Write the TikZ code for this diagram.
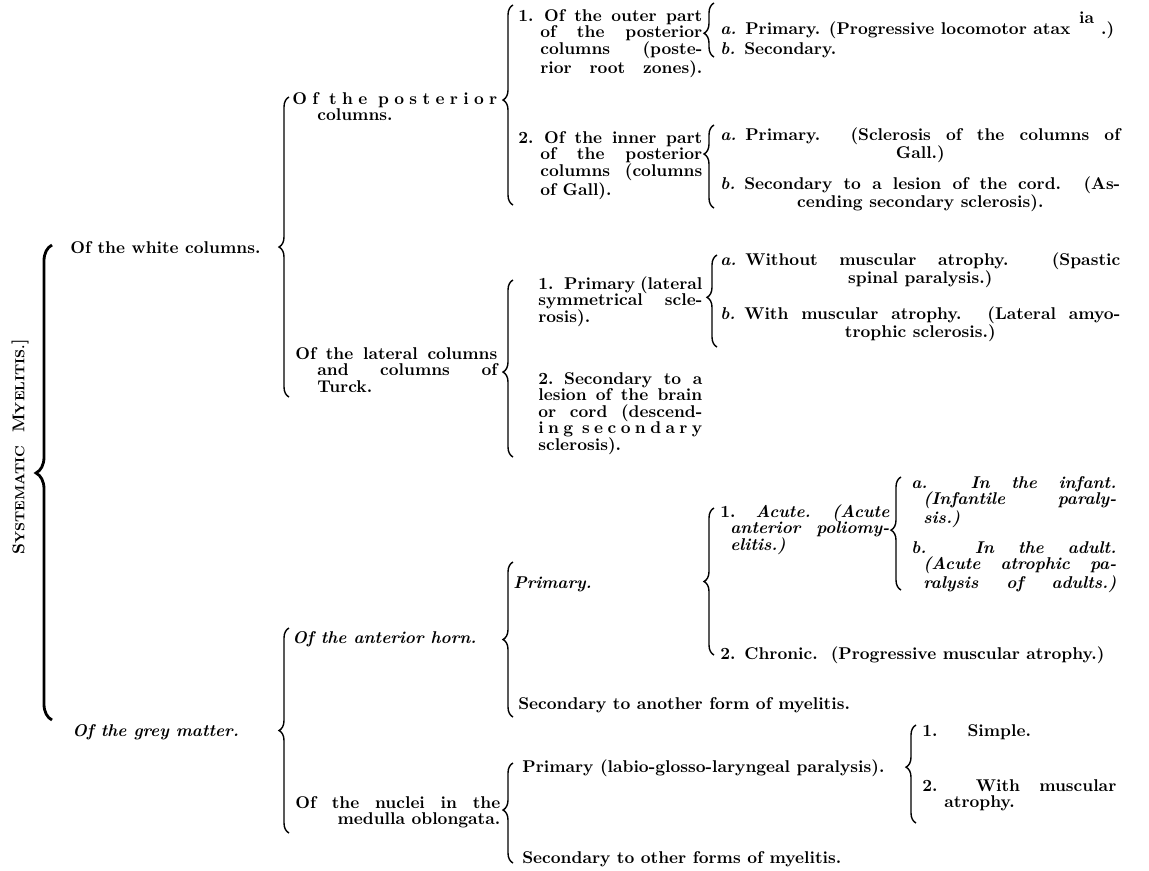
\documentclass[tikz,border=0pt]{standalone}
\usepackage{tikz}
\usetikzlibrary{decorations.pathreplacing}
\newcommand{\txtf}{\fontsize{9.7}{9.4}\selectfont\bfseries\tolerance=10000\hbadness=10000\hyphenpenalty=10000\relax}
\newcommand{\hng}[1]{\leavevmode\hangindent=#1\hangafter=1\relax}
\newcommand{\fillend}{\parfillskip=0pt\relax}
\newcommand{\ctr}[1]{\null\hfill #1\hfill\null}

\begin{document}
\begin{tikzpicture}[x=0.02cm,y=-0.02cm,
    lbl/.style={font=\txtf,inner sep=0pt,anchor=north west},
    blk/.style={lbl,align=justify,text width=#1},
    brc/.style={decorate,decoration={brace,amplitude=2mm,aspect=#1},line width=0.8pt},
    bigbrc/.style={decorate,decoration={brace,amplitude=3.2mm,aspect=#1},line width=1.6pt}]
  \useasboundingbox (0,0) rectangle (1149,870);

  % title and first level
  \node[font=\txtf,inner sep=0pt,rotate=90] (title) at (20,447)
    {S{\fontsize{7.5}{7.5}\selectfont YSTEMATIC}\ \ M{\fontsize{7.5}{7.5}\selectfont YELITIS.}]};
  \node[lbl] (white) at (70,241) {Of the white columns.};
  \node[lbl] (grey) at (72,724) {\itshape Of the grey matter.};

  % second level
  \node[blk=4.1cm] (post) at (292,92)
    {\hng{0.5cm}O\hfil f\hfil\hfil t\hfil h\hfil e\hfil\hfil p\hfil o\hfil s\hfil t\hfil e\hfil r\hfil i\hfil o\hfil r\linebreak columns.\par};
  \node[blk=4.04cm] (lat) at (295,347)
    {\hng{0.44cm}Of the lateral columns\linebreak and columns of\linebreak Turck.\par};
  \node[lbl] (ant) at (292,631) {\itshape Of the anterior horn.};
  \node[blk=4.1cm] (nuc) at (295,796)
    {\hng{0.64cm}Of the nuclei in the\linebreak\hspace*{\fill}medulla oblongata.\par};

  % third level
  \node[blk=3.68cm] (out) at (518,9)
    {\hng{0.44cm}1.\hspace{6pt}Of the outer part\linebreak of the posterior\linebreak columns (poste-\linebreak rior root zones).\fillend\par};
  \node[blk=3.68cm] (inn) at (518,131)
    {\hng{0.44cm}2.\hspace{6pt}Of the inner part\linebreak of the posterior\linebreak columns (columns\linebreak of Gall).\par};
  \node[blk=3.28cm] (lprim) at (538,276)
    {1.\hspace{6pt}Primary (lateral\linebreak symmetrical scle-\linebreak rosis).\par};
  \node[blk=3.28cm] (lsec) at (538,372)
    {2.\hspace{6pt}Secondary to a\linebreak lesion of the brain\linebreak or cord (descend-\linebreak
     i\hfil n\hfil g\hfil\hfil s\hfil e\hfil c\hfil o\hfil n\hfil d\hfil a\hfil r\hfil y\linebreak sclerosis).\par};
  \node[lbl] (aprim) at (513,576) {\itshape Primary.};
  \node[lbl] (asec) at (518,697) {Secondary to another form of myelitis.};
  \node[lbl] (nprim) at (522,759) {Primary (labio-glosso-laryngeal paralysis).};
  \node[lbl] (nsec) at (522,851) {Secondary to other forms of myelitis.};

  % fourth level
  \node[lbl] (outa) at (720,11)
    {\textit{a.}\hspace{5pt}Primary. (Progressive locomotor atax\hspace{5pt}\raisebox{1.5ex}{ia}\hspace{4pt}.)};
  \node[lbl] (outb) at (720,42) {\textit{b.}\hspace{5pt}Secondary.};
  \node[blk=8cm] (inna) at (720,127)
    {\textit{a.}\hspace{5pt}Primary.\ \ (Sclerosis of the columns of\linebreak\ctr{Gall.)}\par};
  \node[blk=8cm] (innb) at (720,176)
    {\textit{b.}\hspace{5pt}Secondary to a lesion of the cord.\ \ (As-\linebreak\ctr{cending secondary sclerosis).}\par};
  \node[blk=8cm] (lata) at (720,252)
    {\textit{a.}\hspace{5pt}Without muscular atrophy.\ \ (Spastic\linebreak\ctr{spinal paralysis.)}\par};
  \node[blk=8cm] (latb) at (720,306)
    {\textit{b.}\hspace{5pt}With muscular atrophy.\ \ (Lateral amyo-\linebreak\ctr{trophic sclerosis.)}\par};
  \node[blk=3.38cm] (acute) at (720,504)
    {\hng{0.2cm}1.\ \ \textit{Acute.\ \ (Acute\linebreak anterior poliomy-\linebreak elitis.)}\par};
  \node[lbl] (chron) at (720,646) {2.\hspace{5pt}Chronic.\ \ (Progressive muscular atrophy.)};
  \node[lbl] (simp) at (922,724) {1.\hspace{0.6cm}Simple.};
  \node[blk=3.88cm] (withm) at (922,779)
    {\hng{0.44cm}2.\ \ With muscular\linebreak atrophy.\par};

  % fifth level
  \node[blk=4.1cm] (infa) at (911,476)
    {\hng{0.24cm}\textit{a.\ \ In the infant.\linebreak (Infantile paraly-\linebreak sis.)}\par};
  \node[blk=4.1cm] (adul) at (911,541)
    {\hng{0.24cm}\textit{b.\ \ In the adult.\linebreak (Acute atrophic pa-\linebreak ralysis of adults.)}\fillend\par};

  % braces
  \draw[bigbrc=0.52] (52,720) -- (52,245);
  \draw[brc=0.5] (289,397) -- (289,97);
  \draw[brc=0.5] (289,833) -- (289,628);
  \draw[brc=0.525] (513,205) -- (513,5);
  \draw[brc=0.48] (513,457) -- (513,280);
  \draw[brc=0.5] (513,717) -- (513,562);
  \draw[brc=0.53] (513,863) -- (513,763);
  \draw[brc=0.44] (714,57) -- (714,3);
  \draw[brc=0.65] (714,208) -- (714,125);
  \draw[brc=0.54] (717,347) -- (717,255);
  \draw[brc=0.5] (714,655) -- (714,508);
  \draw[brc=0.53] (901,590) -- (901,477);
  \draw[brc=0.57] (916,823) -- (916,725);
\end{tikzpicture}
\end{document}
